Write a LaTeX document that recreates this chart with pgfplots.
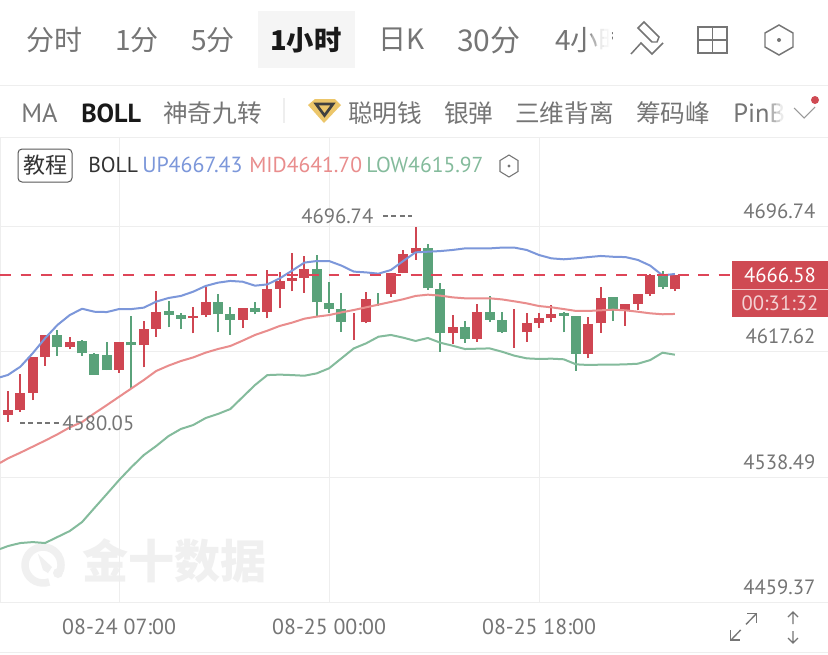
\documentclass[border=0pt]{standalone}
\usepackage{pgfplots}
\pgfplotsset{compat=1.18}
\usepackage{fontspec}
\setmainfont{PT Sans}
\newfontfamily\cjk{Noto Sans CJK SC}
\definecolor{candR}{HTML}{CF4652}
\definecolor{candG}{HTML}{5AA27A}
\definecolor{lnUp}{HTML}{7C97DA}
\definecolor{lnMid}{HTML}{E98D8D}
\definecolor{lnLow}{HTML}{84BB9C}
\definecolor{dashR}{HTML}{DE4558}
\definecolor{grid}{HTML}{EEEEEE}
\definecolor{txt}{HTML}{757575}
\definecolor{boxR}{HTML}{CF4A53}
\newcommand\fs[1]{\fontsize{#1}{#1}\selectfont}
\begin{document}
\begin{tikzpicture}[x=0.75pt,y=-0.75pt]
\useasboundingbox (0,0) rectangle (828,654);
\fill[white] (0,0) rectangle (828,654);
% watermark
\draw[line width=5.6pt,color=black!6] (49.2,581.9) arc[start angle=70,end angle=380,radius=18];
\fill[black!6] (38,554) -- (52,567) -- (48,573) -- (43,570) -- cycle;
\fill[black!6] (58,573) circle (5);
\node[anchor=center,font=\fs{34.5}\cjk\bfseries,text=black!6] at (174,561) {金十数据};
\begin{axis}[
  at={(0pt,-451.5pt)},anchor=south west,
  scale only axis,width=621pt,height=348.75pt,
  xmin=-0.648,xmax=66.4,ymin=4459.37,ymax=4753.7,
  axis line style={draw=grid,line width=0.75pt},
  major tick length=0pt,
  grid=major,grid style={draw=grid,line width=0.75pt},
  xtick={9,26,43},xticklabels={08-24 07:00,08-25 00:00,08-25 18:00},
  ytick={4459.37,4538.49,4617.62,4696.74},
  yticklabels={4459.37,4538.49,4617.62,4696.74},
  yticklabel pos=right,
  xticklabel style={anchor=base,yshift=-24pt,font=\fs{16.4},text=txt},
  yticklabel style={anchor=base east,xshift=-6pt,yshift=6pt,font=\fs{15.5},text=txt},
  unbounded coords=jump,clip=true,
]
% red wicks
\addplot[candR,line width=1.5pt,forget plot] coordinates {
(0,4573.5)(0,4592.9)(0,nan)(1,4579.8)(1,4603.5)(1,nan)(2,4587.2)(2,4614.6)(2,nan)(3,4609.0)(3,4628.4)(3,nan)
(5,4619.3)(5,4627.3)(5,nan)(9,4604.5)(9,4624.2)(9,nan)(11,4607.9)(11,4637.2)(11,nan)(12,4627.3)(12,4656.4)(12,nan)
(15,4629.4)(15,4646.3)(15,nan)(16,4639.6)(16,4658.5)(16,nan)(19,4632.8)(19,4645.7)(19,nan)(21,4638.9)(21,4669.5)(21,nan)
(22,4645.3)(22,4668.5)(22,nan)(23,4656.0)(23,4680.5)(23,nan)(24,4655.2)(24,4678.4)(24,nan)(28,4625.2)(28,4642.1)(28,nan)
(29,4635.8)(29,4655.8)(29,nan)(31,4652.6)(31,4667.8)(31,nan)(32,4667.4)(32,4682.2)(32,nan)(33,4675.9)(33,4696.74)(33,nan)
(36,4622.7)(36,4641.0)(36,nan)(38,4624.2)(38,4647.8)(38,nan)(41,4620.4)(41,4644.6)(41,nan)(42,4624.2)(42,4642.1)(42,nan)
(43,4632.8)(43,4642.1)(43,nan)(44,4636.4)(44,4647.2)(44,nan)(47,4613.6)(47,4639.6)(47,nan)(48,4629.8)(48,4659.0)(48,nan)
(50,4634.1)(50,4647.8)(50,nan)(51,4644.2)(51,4654.3)(51,nan)(52,4653.3)(52,4667.0)(52,nan)(54,4656.2)(54,4666.1)
};
% green wicks
\addplot[candG,line width=1.5pt,forget plot] coordinates {
(4,4615.3)(4,4631.5)(4,nan)(6,4615.3)(6,4625.0)(6,nan)(7,4603.1)(7,4617.2)(7,nan)(8,4606.2)(8,4624.2)(8,nan)
(10,4594.6)(10,4640.4)(10,nan)(13,4633.2)(13,4649.9)(13,nan)(14,4632.2)(14,4642.1)(14,nan)(17,4630.1)(17,4654.1)(17,nan)
(18,4628.6)(18,4645.9)(18,nan)(20,4641.5)(20,4649.5)(20,nan)(25,4640.0)(25,4679.0)(25,nan)(26,4642.1)(26,4661.7)(26,nan)
(27,4630.5)(27,4654.7)(27,nan)(30,4646.7)(30,4654.7)(30,nan)(34,4656.9)(34,4685.8)(34,nan)(35,4617.8)(35,4661.1)(35,nan)
(37,4623.5)(37,4637.4)(37,nan)(39,4636.8)(39,4653.1)(39,nan)(40,4629.8)(40,4643.1)(40,nan)(45,4630.1)(45,4643.1)(45,nan)
(46,4605.6)(46,4640.6)(46,nan)(49,4637.2)(49,4652.6)(49,nan)(53,4657.5)(53,4668.7)
};
% red bodies
\addplot[candR,line width=7.5pt,forget plot] coordinates {
(0,4578.0)(0,4580.9)(0,nan)(1,4580.9)(1,4591.4)(1,nan)(2,4591.9)(2,4614.6)(2,nan)(3,4614.6)(3,4628.4)(3,nan)
(5,4620.6)(5,4624.2)(5,nan)(9,4606.2)(9,4623.7)(9,nan)(11,4621.8)(11,4632.0)(11,nan)(12,4632.2)(12,4643.1)(12,nan)
(15,4639.1)(15,4640.6)(15,nan)(16,4640.8)(16,4649.5)(16,nan)(19,4637.9)(19,4645.5)(19,nan)(21,4643.1)(21,4657.5)(21,nan)
(22,4657.7)(22,4662.4)(22,nan)(23,4662.6)(23,4664.7)(23,nan)(24,4664.5)(24,4669.9)(24,nan)
(29,4636.4)(29,4651.2)(29,nan)(31,4654.3)(31,4667.4)(31,nan)(32,4667.6)(32,4679.4)(32,nan)(33,4680.1)(33,4683.7)(33,nan)
(36,4629.4)(36,4633.4)(36,nan)(38,4625.8)(38,4642.7)(38,nan)(42,4630.1)(42,4636.0)(42,nan)
(43,4636.0)(43,4639.1)(43,nan)(44,4638.9)(44,4641.9)(44,nan)(47,4616.6)(47,4635.1)(47,nan)(48,4635.8)(48,4652.0)(48,nan)
(50,4644.0)(50,4647.8)(50,nan)(51,4648.2)(51,4654.3)(51,nan)(52,4654.3)(52,4666.6)(52,nan)(54,4657.3)(54,4666.1)
};
% green bodies
\addplot[candG,line width=7.5pt,forget plot] coordinates {
(4,4620.6)(4,4628.4)(4,nan)(6,4616.8)(6,4624.4)(6,nan)(7,4603.3)(7,4616.6)(7,nan)(8,4606.2)(8,4615.5)(8,nan)
(10,4621.8)(10,4624.2)(10,nan)(13,4641.2)(13,4643.6)(13,nan)(14,4638.7)(14,4641.2)(14,nan)(17,4641.5)(17,4649.5)(17,nan)
(18,4637.9)(18,4641.9)(18,nan)(20,4643.1)(20,4645.7)(20,nan)(25,4649.1)(25,4669.9)(25,nan)(26,4644.6)(26,4648.8)(26,nan)
(27,4636.6)(27,4644.6)(27,nan)(34,4657.9)(34,4683.7)(34,nan)(35,4629.4)(35,4657.5)(35,nan)
(37,4625.8)(37,4633.4)(37,nan)(39,4637.9)(39,4642.7)(39,nan)(40,4630.1)(40,4637.9)(40,nan)(45,4640.6)(45,4642.1)(45,nan)
(46,4616.6)(46,4640.6)(46,nan)(49,4644.2)(49,4652.4)(49,nan)(53,4658.5)(53,4666.1)
};
% Bollinger lines
\addplot[lnUp,line width=1.5pt,line join=round] coordinates {
(-0.648,4601.6)(0,4603.1)(1,4608.3)(2,4616.8)(3,4626.3)(4,4634.7)(5,4641.0)(6,4645.0)(7,4643.1)(8,4642.9)(9,4644.8)(10,4644.8)
(11,4645.7)(12,4649.5)(13,4651.8)(14,4653.1)(15,4655.8)(16,4659.4)(17,4661.5)(18,4662.6)(19,4662.1)(20,4659.6)(21,4660.4)
(22,4664.2)(23,4669.1)(24,4674.2)(25,4675.2)(26,4675.2)(27,4672.3)(28,4668.5)(29,4668.0)(30,4667.2)(31,4669.5)(32,4675.2)
(33,4680.7)(34,4681.1)(35,4681.5)(36,4682.2)(37,4683.2)(38,4683.2)(39,4683.2)(40,4683.7)(41,4683.7)(42,4682.2)(43,4679.0)
(44,4676.9)(45,4676.3)(46,4676.9)(47,4677.7)(48,4678.4)(49,4677.9)(50,4677.7)(51,4675.9)(52,4672.3)(53,4666.1)(54,4667.0)
};
\addplot[lnMid,line width=1.5pt,line join=round] coordinates {
(-0.648,4547.4)(0,4550.3)(1,4553.9)(2,4557.7)(3,4561.5)(4,4565.5)(5,4569.9)(6,4573.3)(7,4578.8)(8,4584.0)(9,4589.3)(10,4594.6)
(11,4599.9)(12,4605.6)(13,4609.0)(14,4611.9)(15,4614.2)(16,4617.2)(17,4619.5)(18,4621.4)(19,4624.8)(20,4628.4)(21,4631.1)
(22,4634.1)(23,4636.2)(24,4638.7)(25,4640.0)(26,4641.0)(27,4642.7)(28,4644.2)(29,4645.9)(30,4647.6)(31,4649.3)(32,4651.0)
(33,4653.1)(34,4653.9)(35,4653.3)(36,4652.2)(37,4651.6)(38,4651.6)(39,4651.6)(40,4650.9)(41,4649.7)(42,4648.4)(43,4646.7)
(44,4645.9)(45,4644.8)(46,4643.6)(47,4643.6)(48,4644.0)(49,4644.4)(50,4644.0)(51,4643.1)(52,4642.1)(53,4641.5)(54,4641.7)
};
\addplot[lnLow,line width=1.5pt,line join=round] coordinates {
(-0.648,4492.9)(0,4494.8)(1,4496.7)(2,4497.3)(3,4496.7)(4,4500.5)(5,4504.3)(6,4510.0)(7,4518.9)(8,4527.7)(9,4536.6)(10,4544.8)
(11,4552.4)(12,4558.1)(13,4564.4)(14,4568.9)(15,4571.4)(16,4575.8)(17,4578.4)(18,4581.5)(19,4589.1)(20,4596.7)(21,4603.0)
(22,4603.3)(23,4603.0)(24,4602.6)(25,4604.1)(26,4607.3)(27,4613.6)(28,4619.9)(29,4623.1)(30,4627.3)(31,4628.4)(32,4626.7)
(33,4624.6)(34,4626.5)(35,4623.5)(36,4621.6)(37,4619.5)(38,4619.7)(39,4619.9)(40,4617.8)(41,4615.3)(42,4613.6)(43,4613.2)
(44,4613.4)(45,4613.0)(46,4609.8)(47,4609.4)(48,4609.6)(49,4609.6)(50,4609.8)(51,4610.2)(52,4612.5)(53,4617.2)(54,4615.9)
};
% last price
\addplot[dashR,line width=1.5pt,dash pattern=on 8.2pt off 7.2pt] coordinates {(-0.648,4666.58)(58.63,4666.58)};
\end{axis}
% annotations
\node[anchor=base west,inner sep=0,font=\fs{15.5},text=txt] at (301,223) {4696.74};
\draw[txt,line width=0.9pt,dash pattern=on 3.7pt off 2.6pt] (383,216) -- (412,216);
\node[anchor=base west,inner sep=0,font=\fs{15.5},text=txt] at (62,430) {4580.05};
\draw[txt,line width=0.9pt,dash pattern=on 3.7pt off 2.6pt] (20,423) -- (60,423);
% price box
\fill[boxR] (732,261) rectangle (828,317);
\draw[white!70!boxR,line width=0.6pt] (732,289) -- (828,289);
\node[anchor=center,inner sep=0,font=\fs{15.5},text=white] at (780,275) {4666.58};
\node[anchor=center,inner sep=0,font=\fs{15.5},text=white!75!boxR] at (780,303) {00:31:32};
% top tabs
\fill[black!4] (258,11) rectangle (355,68);
\foreach \px/\t in {26/分时,115/1分,191/5分,378/日K}{
  \node[anchor=west,inner sep=0,font=\fs{21}\cjk,text=txt] at (\px,40) {\t};
}
\node[anchor=west,inner sep=0,font=\fs{22.5}\cjk,text=txt] at (457,40) {30分};
\node[anchor=west,inner sep=0,font=\fs{20.5}\cjk\bfseries,text=black!90] at (270,40) {1小时};
\begin{scope}
\clip (540,0) rectangle (612,80);
\node[anchor=west,inner sep=0,font=\fs{21}\cjk,text=txt] at (555,40) {4小时};
\foreach \a/\o in {588/0.25,592/0.45,596/0.65,600/0.85,604/0.93,608/0.97}{\fill[white,opacity=\o] (\a,20) rectangle (\a+4,60);}
\end{scope}
% tool icons
\draw[txt,line width=1.1pt,line join=miter] (638,28) -- (644,22) -- (659,37) -- (657,42) -- (652,42) -- cycle;
\draw[txt,line width=1.1pt] (631,54) -- (641,43) -- (652,54) -- (663,43);
\draw[txt,line width=1.1pt] (698,27) rectangle (727,53) (712.5,27) -- (712.5,53) (698,40) -- (727,40);
\draw[txt,line width=1.1pt] (779,25) -- (793,33) -- (793,47) -- (779,55) -- (765,47) -- (765,33) -- cycle;
\fill[txt] (779,40) circle (2);
\draw[grid,line width=0.75pt] (0,85) -- (828,85);
% second row
\node[anchor=west,inner sep=0,font=\fs{19.8},text=txt] at (21,113) {MA};
\node[anchor=west,inner sep=0,font=\fs{19.6}\bfseries,text=black!90] at (81,113) {BOLL};
\foreach \px/\t in {163/神奇九转,348/聪明钱,444/银弹,515/三维背离,636/筹码峰}{
  \node[anchor=west,inner sep=0,font=\fs{18.5}\cjk,text=txt] at (\px,113) {\t};
}
\draw[grid,line width=1pt] (284,98) -- (284,123);
\definecolor{gold}{HTML}{ECC66A}
\fill[gold] (308,105) -- (315,99) -- (335,99) -- (341,105) -- (324,123) -- cycle;
\draw[black!75,line width=2pt,line join=miter] (316,104) -- (333,104) -- (324.5,115.5) -- cycle;
\begin{scope}
\clip (725,95) rectangle (787,130);
\node[anchor=west,inner sep=0,font=\fs{19.8},text=txt] at (733,113) {PinB};
\foreach \a/\o in {768/0.25,772/0.45,776/0.65,780/0.85}{\fill[white,opacity=\o] (\a,95) rectangle (\a+4,130);}
\end{scope}
\draw[black!40,line width=0.8pt] (794,108) -- (804,118) -- (815,107);
\fill[boxR] (815,100) circle (4);
% legend row
\draw[black!65,line width=0.75pt,rounded corners=3pt] (18,149) rectangle (72,182);
\node[anchor=center,inner sep=0,font=\fs{16.5}\cjk,text=black!80] at (45,165.5) {教程};
\node[anchor=west,inner sep=0,font=\fs{16.2},text=black!80] at (88,165) {BOLL};
\node[anchor=west,inner sep=0,font=\fs{16.4},text=lnUp] at (142,165) {UP4667.43};
\node[anchor=west,inner sep=0,font=\fs{16.2},text=lnMid] at (249,165) {MID4641.70};
\node[anchor=west,inner sep=0,font=\fs{16.2},text=lnLow] at (366,165) {LOW4615.97};
\draw[txt,line width=0.8pt] (509,155) -- (518,160.5) -- (518,171.5) -- (509,177) -- (500,171.5) -- (500,160.5) -- cycle;
\fill[txt] (509,166) circle (1.6);
% bottom icons
\draw[txt,line width=1pt] (731,640) -- (756,614);
\draw[white,line width=3pt] (741,630) -- (746,624.5);
\draw[txt,line width=1pt] (747,613.5) -- (756.5,613.5) -- (756.5,623);
\draw[txt,line width=1pt] (730.5,630) -- (730.5,640) -- (740,640);
\draw[txt,line width=1pt] (793,612) -- (793,624) (788,617) -- (793,612) -- (798,617);
\draw[txt,line width=1pt] (793,631) -- (793,643) (788,638) -- (793,643) -- (798,638);
\draw[grid,line width=0.75pt] (0,652) -- (828,652);
\end{tikzpicture}
\end{document}
